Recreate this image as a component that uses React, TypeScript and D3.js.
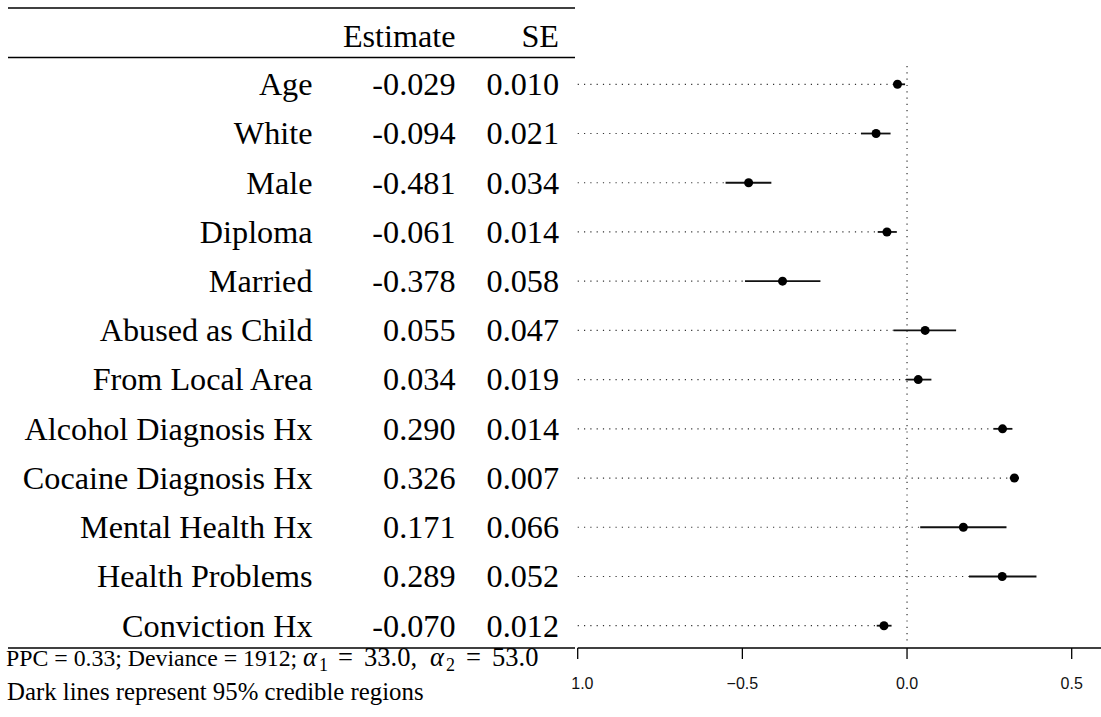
import React from "react";
import * as d3 from "d3";

const categories = [
  "Age",
  "White",
  "Male",
  "Diploma",
  "Married",
  "Abused as Child",
  "From Local Area",
  "Alcohol Diagnosis Hx",
  "Cocaine Diagnosis Hx",
  "Mental Health Hx",
  "Health Problems",
  "Conviction Hx",
];
const estimates = [-0.029, -0.094, -0.481, -0.061, -0.378, 0.055, 0.034, 0.29, 0.326, 0.171, 0.289, -0.07];
const ses = [0.01, 0.021, 0.034, 0.014, 0.058, 0.047, 0.019, 0.014, 0.007, 0.066, 0.052, 0.012];
const lower = [-0.041, -0.14, -0.551, -0.089, -0.492, -0.041, -0.003, 0.262, 0.312, 0.04, 0.188, -0.092];
const upper = [-0.006, -0.05, -0.412, -0.031, -0.263, 0.149, 0.074, 0.32, 0.34, 0.302, 0.393, -0.047];
const xTicks = [-1, -0.5, 0, 0.5];
const xTickLabels = ["\u22121.0", "\u22120.5", "0.0", "0.5"];
const headers = ["Estimate", "SE"];
const alphaValues = ["33.0", "53.0"];

const SERIF = "'Liberation Serif', 'Times New Roman', serif";
const SANS = "'Liberation Sans', Arial, Helvetica, sans-serif";

export default function App() {
  const W = 1101;
  const H = 717;
  const x = d3.scaleLinear().domain([-1, 0.5]).range([577.7, 1071.7]);
  const y = d3.scalePoint<string>().domain(categories).range([84.3, 625.7]);
  const axisY = 648;
  const ruleL = 8;
  const ruleR = 575;
  const labelRight = 312.5;
  const estRight = 455.5;
  const seRight = 559;
  const fs = 32.2;
  const baseOff = 10.8;
  const footY = 666;
  const mfs = 26.5;
  const sfs = 18;

  return (
    <svg
      width={W}
      height={H}
      viewBox={`0 0 ${W} ${H}`}
      style={{ position: "absolute", left: 0, top: 0, background: "#fff" }}
    >
      <defs>
        <clipPath id="axclip">
          <rect x={571} y={0} width={W - 571} height={H} />
        </clipPath>
      </defs>
      <rect x={0} y={0} width={W} height={H} fill="#fff" />

      {/* table rules */}
      <line x1={ruleL} x2={ruleR} y1={8} y2={8} stroke="#000" strokeWidth={1.3} />
      <line x1={ruleL} x2={ruleR} y1={57.5} y2={57.5} stroke="#000" strokeWidth={1.3} />
      <line x1={ruleL} x2={ruleR} y1={axisY} y2={axisY} stroke="#000" strokeWidth={1.3} />

      {/* headers */}
      <text x={estRight} y={47} textAnchor="end" fontFamily={SERIF} fontSize={fs}>
        {headers[0]}
      </text>
      <text x={seRight} y={47} textAnchor="end" fontFamily={SERIF} fontSize={fs}>
        {headers[1]}
      </text>

      {/* rows text */}
      {categories.map((c, i) => {
        const yy = (y(c) as number) + baseOff;
        return (
          <g key={c} fontFamily={SERIF} fontSize={fs}>
            <text x={labelRight} y={yy} textAnchor="end">
              {c}
            </text>
            <text x={estRight} y={yy} textAnchor="end">
              {estimates[i].toFixed(3)}
            </text>
            <text x={seRight} y={yy} textAnchor="end">
              {ses[i].toFixed(3)}
            </text>
          </g>
        );
      })}

      {/* zero reference line */}
      <line
        x1={x(0)}
        x2={x(0)}
        y1={66}
        y2={642}
        stroke="#333"
        strokeWidth={1.2}
        strokeDasharray="1.2 5.1"
      />

      {/* dotted guides, intervals, points */}
      {categories.map((c, i) => {
        const yy = y(c) as number;
        return (
          <g key={"m" + c}>
            <line
              x1={x(-1)}
              x2={x(lower[i])}
              y1={yy}
              y2={yy}
              stroke="#333"
              strokeWidth={1.2}
              strokeDasharray="1.2 5.1"
            />
            <line
              x1={x(lower[i])}
              x2={x(upper[i])}
              y1={yy}
              y2={yy}
              stroke="#111"
              strokeWidth={1.8}
            />
            <circle cx={x(estimates[i])} cy={yy} r={4.5} fill="#000" />
          </g>
        );
      })}

      {/* x axis */}
      <line x1={x(-1)} x2={W} y1={axisY} y2={axisY} stroke="#000" strokeWidth={1.3} />
      {xTicks.map((t, i) => (
        <g key={"t" + t}>
          <line x1={x(t)} x2={x(t)} y1={axisY} y2={axisY + 11} stroke="#000" strokeWidth={1.3} />
          <text
            x={x(t)}
            y={688.5}
            textAnchor="middle"
            fontFamily={SANS}
            fontSize={16}
            fill="#111"
            clipPath="url(#axclip)"
          >
            {xTickLabels[i]}
          </text>
        </g>
      ))}

      {/* footnotes */}
      <text x={6} y={footY} fontFamily={SERIF} fontSize={23.8}>
        PPC = 0.33; Deviance = 1912;
      </text>
      <g fontFamily={SERIF} fontSize={mfs}>
        <text x={303} y={footY} fontStyle="italic">α</text>
        <text x={319} y={footY + 5} fontSize={sfs}>1</text>
        <text x={338} y={footY}>=</text>
        <text x={364} y={footY}>{alphaValues[0]},</text>
        <text x={430} y={footY} fontStyle="italic">α</text>
        <text x={446} y={footY + 5} fontSize={sfs}>2</text>
        <text x={466} y={footY}>=</text>
        <text x={492} y={footY}>{alphaValues[1]}</text>
      </g>
      <text x={7} y={700} fontFamily={SERIF} fontSize={24.8}>
        Dark lines represent 95% credible regions
      </text>
    </svg>
  );
}
